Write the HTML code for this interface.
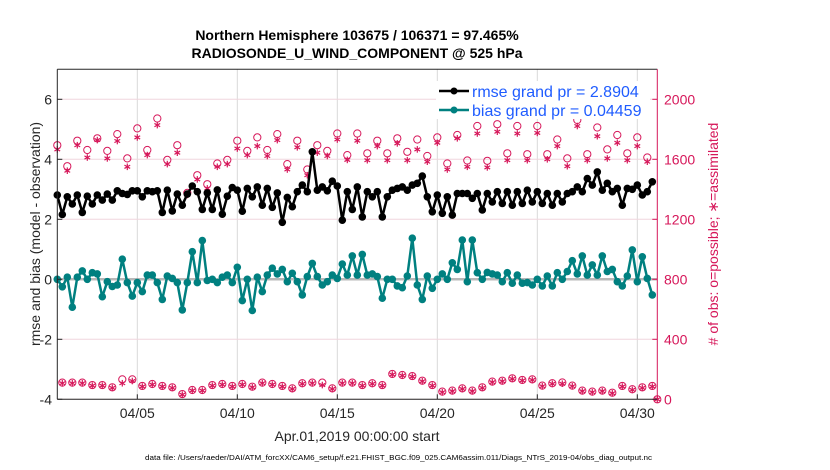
<!DOCTYPE html>
<html><head><meta charset="utf-8"><style>
html,body{margin:0;padding:0;background:#fff;width:830px;height:470px;overflow:hidden}
svg{display:block;font-family:"Liberation Sans",sans-serif}
</style></head><body>
<svg id="chart" width="830" height="470" viewBox="0 0 830 470">
<g id="grid"></g>
<g id="marks"></g>
<g id="axes"></g>
<text x="357" y="40" text-anchor="middle" font-size="14" font-weight="bold">Northern Hemisphere 103675 / 106371 = 97.465%</text>
<text x="357" y="58" text-anchor="middle" font-size="14" font-weight="bold">RADIOSONDE_U_WIND_COMPONENT @ 525 hPa</text>
<text transform="translate(40,234) rotate(-90)" text-anchor="middle" font-size="14" fill="#262626">rmse and bias (model - observation)</text>
<text transform="translate(718,234) rotate(-90)" text-anchor="middle" font-size="14" fill="#d6175a"># of obs: o=possible; ∗=assimilated</text>
<text x="357" y="441" text-anchor="middle" font-size="14" fill="#262626">Apr.01,2019 00:00:00 start</text>
<text x="145" y="460" font-size="7.5" fill="#000" textLength="507" lengthAdjust="spacingAndGlyphs">data file: /Users/raeder/DAI/ATM_forcXX/CAM6_setup/f.e21.FHIST_BGC.f09_025.CAM6assim.011/Diags_NTrS_2019-04/obs_diag_output.nc</text>
<g>
<rect x="436" y="81" width="214" height="38" fill="#fff"/>
<g>
<line x1="439" y1="91" x2="469" y2="91" stroke="#000" stroke-width="2.5"/>
<circle cx="454" cy="91" r="3.5" fill="#000"/>
<text x="472" y="97" font-size="16" fill="#1f5cff">rmse grand pr = 2.8904</text></g>
<g>
<line x1="439" y1="110" x2="469" y2="110" stroke="#008080" stroke-width="2.5"/>
<circle cx="454" cy="110" r="3.5" fill="#008080"/>
<text x="472" y="116" font-size="16" fill="#1f5cff">bias grand pr = 0.04459</text></g>
</g>
</svg>
<script>
// data: 6-hourly from Apr 01 00Z
const rmse=[2.81,2.16,2.75,2.51,2.81,2.23,2.77,2.51,2.81,2.64,2.84,2.64,2.95,2.86,2.83,2.95,2.95,2.75,2.95,2.92,2.95,2.23,2.97,2.28,2.84,2.47,2.84,3.11,2.92,2.33,2.88,2.33,2.98,2.17,2.77,3.06,2.97,2.27,3.03,2.75,3.08,2.47,3.03,2.40,2.88,1.90,2.73,2.42,2.92,3.14,2.92,4.25,2.97,3.08,2.95,3.27,3.11,1.97,2.92,2.33,3.08,2.08,2.92,2.75,2.92,2.08,2.75,2.97,3.03,3.08,2.97,3.14,3.20,3.44,2.75,2.25,2.81,2.20,2.75,2.14,2.86,2.86,2.86,2.70,2.86,2.31,2.86,2.58,2.92,2.53,2.92,2.47,2.92,2.53,2.97,2.58,2.92,2.53,2.86,2.47,2.86,2.58,2.86,2.92,3.08,2.92,3.36,3.14,3.58,2.97,3.20,2.92,3.03,2.47,3.03,3.00,3.14,2.81,2.92,3.25];
const bias=[0.0,-0.25,0.07,-0.93,0.07,0.28,0.0,0.22,0.18,-0.58,-0.08,-0.24,-0.19,0.67,-0.11,-0.56,-0.11,-0.41,0.14,0.14,-0.11,-0.67,0.11,0.03,-0.11,-1.02,-0.11,0.92,-0.11,1.29,-0.04,0.0,-0.11,0.07,0.14,-0.11,0.40,-0.71,0.0,-1.04,0.07,-0.41,0.14,0.37,0.18,0.33,-0.08,0.20,-0.08,-0.52,0.09,0.53,0.09,-0.19,-0.08,0.14,0.03,0.51,0.14,0.78,0.14,0.83,0.14,0.18,0.09,-0.63,0.0,0.0,-0.22,-0.28,0.11,1.37,-0.19,-0.67,0.11,-0.30,0.0,0.18,0.0,0.55,0.33,1.31,-0.08,1.31,0.22,0.0,0.23,0.18,0.14,-0.08,0.22,-0.13,0.14,-0.13,-0.11,-0.19,0.0,-0.22,0.11,-0.22,0.22,0.0,0.26,0.62,0.18,0.78,0.14,0.48,0.14,0.78,0.26,0.33,-0.08,-0.22,0.11,0.98,-0.08,0.75,0.03,-0.52];
// obs counts at 00Z/12Z (even 6h index)
const possMain=[1694,1554,1724,1662,1740,1656,1768,1606,1806,1662,1872,1596,1694,1376,1494,1434,1572,1596,1724,1656,1746,1662,1768,1568,1724,1532,1694,1656,1772,1628,1772,1640,1724,1640,1740,1650,1732,1622,1746,1572,1762,1592,1822,1590,1834,1640,1822,1634,1822,1634,1732,1606,1862,1634,1812,1666,1762,1640,1746,1612,0];
const assimMain=[1666,1524,1694,1612,1728,1606,1722,1550,1746,1628,1828,1568,1644,1362,1466,1406,1550,1568,1672,1628,1688,1622,1728,1532,1680,1494,1644,1622,1732,1596,1724,1594,1688,1594,1706,1594,1666,1584,1710,1532,1740,1550,1772,1546,1784,1594,1772,1594,1776,1600,1688,1554,1822,1594,1754,1606,1710,1594,1688,1584,0];
// obs counts at 06Z/18Z (odd 6h index)
const possOff=[111,111,111,95,95,80,133,133,89,102,89,80,35,62,62,95,102,89,102,84,111,102,89,73,107,111,111,73,111,111,95,107,95,169,162,155,124,95,51,58,73,58,80,118,124,140,129,133,91,107,112,91,58,51,58,44,89,67,80,89];
const assimOff=[107,107,107,91,91,76,107,122,85,98,85,76,31,58,58,91,98,85,98,80,107,98,85,69,103,107,95,69,107,107,91,103,91,165,158,151,120,91,47,54,69,54,76,114,120,136,125,129,87,103,104,87,54,47,54,40,85,63,76,85];
const xTicks=["04/05","04/10","04/15","04/20","04/25","04/30"];
const xTickDays=[4,9,14,19,24,29];
const yTicks=[-4,-2,0,2,4,6];
const y2Ticks=[0,400,800,1200,1600,2000];

const NS='http://www.w3.org/2000/svg';
const X0=57.3,X1=657.3,DAYS=30,Y0=399.3,Y1=69.3,YMIN=-4,YMAX=7,C2MAX=2200;
const xDay=d=>X0+(X1-X0)*d/DAYS;
const xIdx=i=>xDay(i*0.25);
const yL=v=>Y0-(Y0-Y1)*(v-YMIN)/(YMAX-YMIN);
const yR=c=>Y0-(Y0-Y1)*c/C2MAX;
const RED='#d6175a',TEAL='#008080';
function mk(tag,attrs,parent){const e=document.createElementNS(NS,tag);for(const k in attrs)e.setAttribute(k,attrs[k]);parent.appendChild(e);return e;}
const grid=document.getElementById('grid'),marks=document.getElementById('marks'),axes=document.getElementById('axes');

xTickDays.forEach((d,i)=>{
  const l=mk('line',{x1:xDay(d),x2:xDay(d),y1:Y1,y2:Y0,stroke:'#d9d9d9','stroke-width':1},grid);
  
  
  const t=mk('text',{x:xDay(d),y:418,'text-anchor':'middle','font-size':14,fill:'#262626'},axes);
  t.textContent=xTicks[i];
  
  
  mk('line',{x1:xDay(d),x2:xDay(d),y1:Y0,y2:Y0-5,stroke:'#262626'},axes);
});
y2Ticks.forEach(c=>{
  const l=mk('line',{x1:X0,x2:X1,y1:yR(c),y2:yR(c),stroke:'#f0d6de','stroke-width':1},grid);
  
  
  const t=mk('text',{x:664,y:yR(c)+5,'font-size':14,fill:RED},axes);
  t.textContent=c;
  
  
  mk('line',{x1:X1,x2:X1-5,y1:yR(c),y2:yR(c),stroke:RED},axes);
});
yTicks.forEach(v=>{
  const t=mk('text',{x:52,y:yL(v)+5,'text-anchor':'end','font-size':14,fill:'#262626'},axes);
  t.textContent=v;
  
  
  mk('line',{x1:X0,x2:X0+5,y1:yL(v),y2:yL(v),stroke:'#262626'},axes);
});
const zl=mk('line',{x1:X0,x2:X1,y1:yL(0),y2:yL(0),stroke:'#b8b8b8','stroke-width':2.5},grid);



// axes box
mk('line',{x1:X0,x2:X0,y1:Y1,y2:Y0,stroke:'#262626','stroke-width':1},axes);
mk('line',{x1:X0,x2:X1,y1:Y0,y2:Y0,stroke:'#262626','stroke-width':1},axes);
mk('line',{x1:X0,x2:X1,y1:Y1,y2:Y1,stroke:'#262626','stroke-width':1},axes);
mk('line',{x1:X1,x2:X1,y1:Y1,y2:Y0,stroke:RED,'stroke-width':1},axes);

// obs counts
function star(cx,cy,parent){
  const g=mk('g',{stroke:RED,'stroke-width':1.2},parent);
  for(let a=0;a<3;a++){const an=a*Math.PI/3+Math.PI/2;const dx=3.3*Math.cos(an),dy=3.3*Math.sin(an);
    mk('line',{x1:cx-dx,y1:cy-dy,x2:cx+dx,y2:cy+dy},g);}
  return g;
}
function obsPoint(i,p,a){
  const c=mk('circle',{cx:xIdx(i),cy:yR(p),r:3.6,fill:'none',stroke:RED,'stroke-width':1},marks);
  
  
  const s=star(xIdx(i),yR(a),marks);
  
  
}
possMain.forEach((p,k)=>obsPoint(2*k,p,assimMain[k]));
possOff.forEach((p,k)=>obsPoint(2*k+1,p,assimOff[k]));

function series(vals,color,name){
  const pts=vals.map((v,i)=>xIdx(i).toFixed(1)+','+yL(v).toFixed(1)).join(' ');
  const pl=mk('polyline',{points:pts,fill:'none',stroke:color,'stroke-width':2.5,'stroke-linejoin':'round'},marks);
  
  
  vals.forEach((v,i)=>{
    const c=mk('circle',{cx:xIdx(i),cy:yL(v),r:3.8,fill:color},marks);
    
    
  });
}
series(rmse,'#000','rmse');
series(bias,TEAL,'bias');
</script>
</body></html>
